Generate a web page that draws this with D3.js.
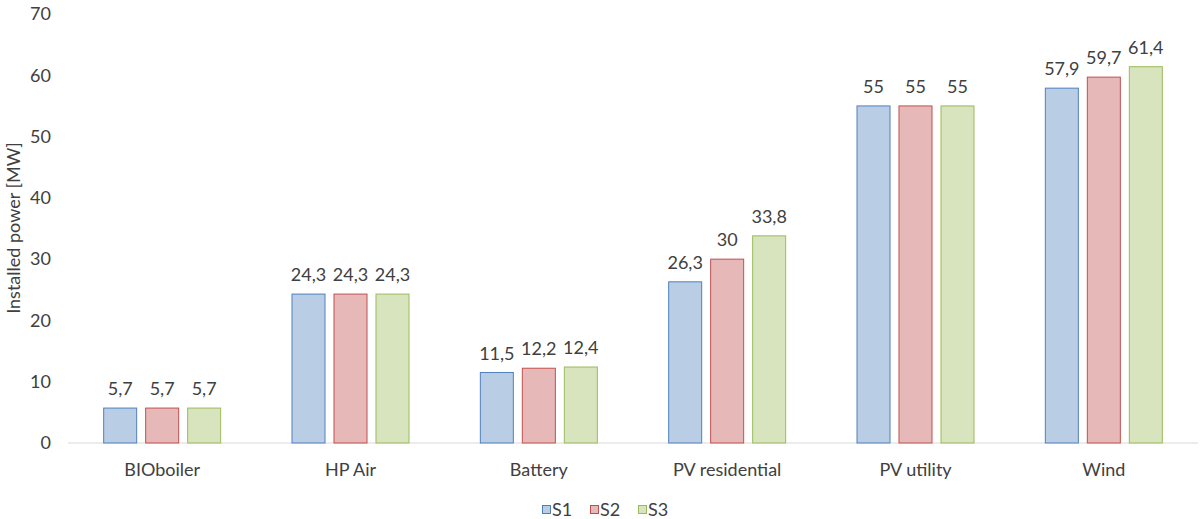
<!DOCTYPE html>
<html><head><meta charset="utf-8">
<script src="https://cdn.jsdelivr.net/npm/d3@7"></script>
<style>body{margin:0;background:#fff;} svg{display:block;font-family:"Lato","Liberation Sans",sans-serif;}</style>
</head><body>
<svg id="c" width="1201" height="519"></svg>
<script>
const categories = ["BIOboiler","HP Air","Battery","PV residential","PV utility","Wind"];
const seriesNames = ["S1","S2","S3"];
const s1 = [5.7,24.3,11.5,26.3,55,57.9];
const s2 = [5.7,24.3,12.2,30,55,59.7];
const s3 = [5.7,24.3,12.4,33.8,55,61.4];
const yTicks = [0,10,20,30,40,50,60,70];
const values = [s1,s2,s3];
const fills = ["#B9CDE5","#E6B9B8","#D7E4BD"];
const strokes = ["#4F81BD","#C0504D","#9BBB59"];

(function(){
const svg = d3.select("#c");
const mLeft = 68, mRight = 1198, mTop = 14, mBottom = 443;
const fs = 18;
const x = d3.scaleBand().domain(categories).range([mLeft,mRight]).padding(0);
const y = d3.scaleLinear().domain([0,70]).range([mBottom,mTop]);
const groupW = 118;
const xs = d3.scaleBand().domain(seriesNames).range([0,groupW]).paddingInner(0.19);

svg.append("g").selectAll("text").data(yTicks).join("text")
  .attr("x",51).attr("y",d=>y(d)).attr("dy","0.35em").attr("text-anchor","end")
  .attr("font-size",fs).attr("fill","#404040").text(d=>d);

svg.append("line").attr("x1",mLeft).attr("x2",mRight).attr("y1",y(0)).attr("y2",y(0))
  .attr("stroke","#d9d9d9").attr("stroke-width",1);

seriesNames.forEach((s,si)=>{
  const g = svg.append("g");
  g.selectAll("rect").data(categories).join("rect")
    .attr("x",d=>x(d)+x.bandwidth()/2-groupW/2+xs(s)+0.5)
    .attr("y",(d,i)=>y(values[si][i]))
    .attr("width",xs.bandwidth()-1)
    .attr("height",(d,i)=>y(0)-y(values[si][i]))
    .attr("fill",fills[si]).attr("stroke",strokes[si]).attr("stroke-width",1);
  g.selectAll("text").data(categories).join("text")
    .attr("x",d=>x(d)+x.bandwidth()/2-groupW/2+xs(s)+xs.bandwidth()/2)
    .attr("y",(d,i)=>y(values[si][i])-13)
    .attr("text-anchor","middle").attr("font-size",fs).attr("fill","#404040")
    .text((d,i)=>String(values[si][i]).replace(".",","));
});

svg.append("g").selectAll("text").data(categories).join("text")
  .attr("x",d=>x(d)+x.bandwidth()/2).attr("y",476).attr("text-anchor","middle")
  .attr("font-size",fs).attr("fill","#404040").text(d=>d);

svg.append("text").attr("transform","translate(20,228) rotate(-90)")
  .attr("text-anchor","middle").attr("font-size",fs).attr("fill","#404040").text("Installed power [MW]");

const lg = svg.append("g").attr("transform","translate(542,505)");
seriesNames.forEach((s,i)=>{
  const gx = i*48;
  lg.append("rect").attr("x",gx+0.5).attr("y",0.5).attr("width",8).attr("height",8)
    .attr("fill",fills[i]).attr("stroke",strokes[i]);
  lg.append("text").attr("x",gx+10).attr("y",4.5).attr("dy","0.35em")
    .attr("font-size",fs).attr("fill","#404040").text(s);
});
})();
</script>
</body></html>
